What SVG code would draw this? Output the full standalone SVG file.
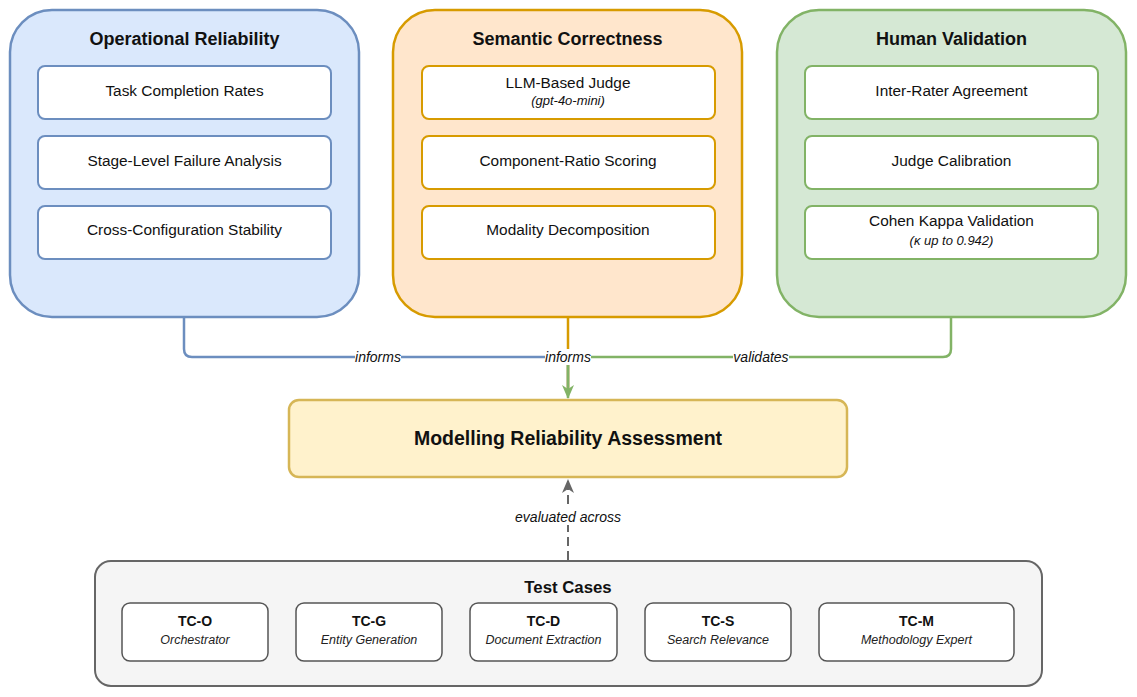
<svg xmlns="http://www.w3.org/2000/svg" width="1137" height="697" viewBox="0 0 1137 697">
<style>
text{font-family:"Liberation Sans",Arial,sans-serif;fill:#111;text-anchor:middle;dominant-baseline:central}
.t{font-size:18px;font-weight:bold}
.i{font-size:15.4px}
.s{font-size:13px;font-style:italic}
.lab{font-size:14px;font-style:italic}
.item{fill:#fff;stroke-width:2}
.tc{fill:#fff;stroke:#555;stroke-width:1.5}
.tcn{font-size:14px;font-weight:bold}
.tcs{font-size:12.5px;font-style:italic;fill:#222}
.edge{fill:none;stroke-width:2.5}
</style>
<defs>
<marker id="ag" viewBox="0 0 14 14" refX="13" refY="7" markerWidth="14" markerHeight="14" markerUnits="userSpaceOnUse" orient="auto"><path d="M0,1 L14,7 L0,13 L4,7 Z" fill="#82b366"/></marker>
<marker id="ad" viewBox="0 0 14 14" refX="13" refY="7" markerWidth="14" markerHeight="14" markerUnits="userSpaceOnUse" orient="auto"><path d="M0,1 L14,7 L0,13 L4,7 Z" fill="#666"/></marker>
</defs>
<rect width="1137" height="697" fill="#fff"/>

<g id="connectors">
<path class="edge" stroke="#6c8ebf" d="M184 318 V349 Q184 357 192 357 H560 Q568 357 568 365 V390"/>
<path class="edge" stroke="#d79b00" d="M568 318 V390"/>
<path class="edge" stroke="#82b366" d="M951 318 V349 Q951 357 943 357 H576 Q568 357 568 365 V398" marker-end="url(#ag)"/>
<path fill="none" stroke="#666" stroke-width="2" stroke-dasharray="9 5" d="M568 560 V480" marker-end="url(#ad)"/>
<rect x="355" y="349" width="46" height="16" fill="#fff"/>
<text class="lab" x="378" y="357">informs</text>
<rect x="545" y="349" width="46" height="16" fill="#fff"/>
<text class="lab" x="568" y="357">informs</text>
<rect x="733" y="349" width="56" height="16" fill="#fff"/>
<text class="lab" x="761" y="357">validates</text>
<rect x="514" y="509" width="108" height="16" fill="#fff"/>
<text class="lab" x="568" y="517" fill="#333">evaluated across</text>
</g>

<g id="operational">
<rect x="10" y="10" width="349" height="307" rx="42" fill="#dae8fc" stroke="#6c8ebf" stroke-width="2.5"/>
<text class="t" x="184.5" y="39">Operational Reliability</text>
<rect class="item" x="38" y="66" width="293" height="53" rx="7" stroke="#6c8ebf"/>
<text class="i" x="184.5" y="90">Task Completion Rates</text>
<rect class="item" x="38" y="136" width="293" height="53" rx="7" stroke="#6c8ebf"/>
<text class="i" x="184.5" y="160">Stage-Level Failure Analysis</text>
<rect class="item" x="38" y="206" width="293" height="53" rx="7" stroke="#6c8ebf"/>
<text class="i" x="184.5" y="229">Cross-Configuration Stability</text>
</g>

<g id="semantic">
<rect x="393" y="10" width="349" height="307" rx="42" fill="#ffe6cc" stroke="#d79b00" stroke-width="2.5"/>
<text class="t" x="567.5" y="39">Semantic Correctness</text>
<rect class="item" x="422" y="66" width="293" height="53" rx="7" stroke="#d79b00"/>
<text class="i" x="568" y="82">LLM-Based Judge</text>
<text class="s" x="568" y="100">(gpt-4o-mini)</text>
<rect class="item" x="422" y="136" width="293" height="53" rx="7" stroke="#d79b00"/>
<text class="i" x="568" y="160">Component-Ratio Scoring</text>
<rect class="item" x="422" y="206" width="293" height="53" rx="7" stroke="#d79b00"/>
<text class="i" x="568" y="229">Modality Decomposition</text>
</g>

<g id="human">
<rect x="777" y="10" width="349" height="307" rx="42" fill="#d5e8d4" stroke="#82b366" stroke-width="2.5"/>
<text class="t" x="951.5" y="39">Human Validation</text>
<rect class="item" x="805" y="66" width="293" height="53" rx="7" stroke="#82b366"/>
<text class="i" x="951.5" y="90">Inter-Rater Agreement</text>
<rect class="item" x="805" y="136" width="293" height="53" rx="7" stroke="#82b366"/>
<text class="i" x="951.5" y="160">Judge Calibration</text>
<rect class="item" x="805" y="206" width="293" height="53" rx="7" stroke="#82b366"/>
<text class="i" x="951.5" y="220">Cohen Kappa Validation</text>
<text class="s" x="951.5" y="240">(κ up to 0.942)</text>
</g>

<g id="assessment">
<rect x="289" y="400" width="558" height="77" rx="10" fill="#fff2cc" stroke="#d6b656" stroke-width="2.5"/>
<text x="568" y="438" style="font-size:19.5px;font-weight:bold">Modelling Reliability Assessment</text>
</g>

<g id="testcases">
<rect x="95" y="561" width="947" height="125" rx="16" fill="#f5f5f5" stroke="#666" stroke-width="2"/>
<text class="t" x="568" y="587" style="font-size:16.8px">Test Cases</text>
<g id="tc-o"><rect class="tc" x="122" y="603" width="146" height="58" rx="8"/>
<text class="tcn" x="195" y="621">TC-O</text><text class="tcs" x="195" y="640">Orchestrator</text></g>
<g id="tc-g"><rect class="tc" x="296" y="603" width="146" height="58" rx="8"/>
<text class="tcn" x="369" y="621">TC-G</text><text class="tcs" x="369" y="640">Entity Generation</text></g>
<g id="tc-d"><rect class="tc" x="470" y="603" width="147" height="58" rx="8"/>
<text class="tcn" x="543.5" y="621">TC-D</text><text class="tcs" x="543.5" y="640">Document Extraction</text></g>
<g id="tc-s"><rect class="tc" x="645" y="603" width="146" height="58" rx="8"/>
<text class="tcn" x="718" y="621">TC-S</text><text class="tcs" x="718" y="640">Search Relevance</text></g>
<g id="tc-m"><rect class="tc" x="819" y="603" width="195" height="58" rx="8"/>
<text class="tcn" x="916.5" y="621">TC-M</text><text class="tcs" x="916.5" y="640">Methodology Expert</text></g>
</g>
</svg>
